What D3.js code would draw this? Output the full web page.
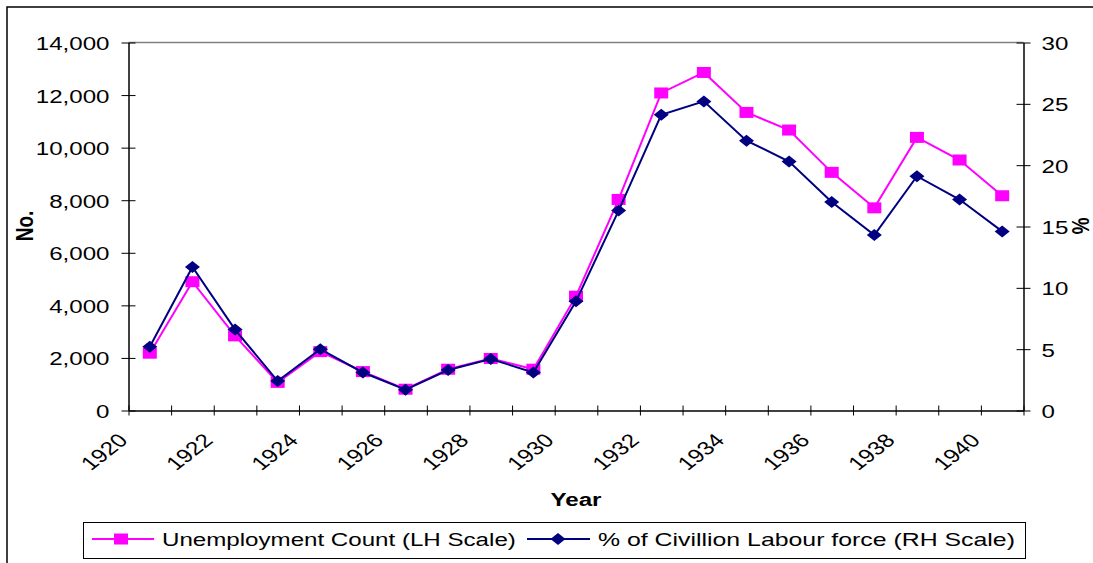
<!DOCTYPE html>
<html>
<head>
<meta charset="utf-8">
<script src="https://cdn.jsdelivr.net/npm/d3@7"></script>
<style>
  body { margin: 0; background: #fff; }
  text { font-family: "Liberation Sans", Arial, sans-serif; }
</style>
</head>
<body>
<svg id="chart" width="1093" height="563"></svg>
<script>
// Data
const years = d3.range(1920, 1941);
const unemployment = [2180, 4900, 2840, 1070, 2240, 1480, 810, 1570, 1980, 1570,
    4350, 8030, 12080, 12860, 11340, 10670, 9060, 7710, 10390, 9530, 8170];
const percentLabour = [5.2, 11.7, 6.6, 2.4, 5.0, 3.1, 1.7, 3.3, 4.2, 3.1,
    8.9, 16.3, 24.1, 25.2, 22.0, 20.3, 17.0, 14.3, 19.1, 17.2, 14.6];
const leftTicks = [0, 2000, 4000, 6000, 8000, 10000, 12000, 14000];
const rightTicks = [0, 5, 10, 15, 20, 25, 30];
const yearLabels = [1920, 1922, 1924, 1926, 1928, 1930, 1932, 1934, 1936, 1938, 1940];

const FS = 19;      // font size
const SX = 1.27;    // the source picture is stretched sideways

const svg = d3.select('#chart');
const plot = { left: 128.5, right: 1023.5, top: 42.5, bottom: 410.5 };

// outer frame
svg.append('rect')
    .attr('x', 7).attr('y', 7)
    .attr('width', 1200).attr('height', 700)
    .attr('fill', '#fff')
    .attr('stroke', '#000')
    .attr('stroke-width', 1.5);

// scales: category edges on a linear scale, points sit mid-category
const x = d3.scaleLinear().domain([1920, 1941]).range([plot.left, plot.right]);
const yL = d3.scaleLinear().domain([0, 14000]).range([plot.bottom, plot.top]);
const yR = d3.scaleLinear().domain([0, 30]).range([plot.bottom, plot.top]);

// plot area top border
svg.append('line')
    .attr('x1', plot.left).attr('x2', plot.right)
    .attr('y1', plot.top).attr('y2', plot.top)
    .attr('stroke', '#808080').attr('stroke-width', 1.5);

function styleAxis(g) {
    g.select('.domain').attr('stroke', '#000').attr('stroke-width', 1.5);
    g.selectAll('.tick line').attr('stroke', '#000').attr('stroke-width', 1);
    g.selectAll('.tick text')
        .attr('fill', '#000')
        .style('font-size', FS + 'px');
}

// Left axis
const gL = svg.append('g')
    .attr('transform', `translate(${plot.left}, 0)`)
    .call(d3.axisLeft(yL).tickValues(leftTicks).tickSizeOuter(0)
        .tickFormat(d3.format(',')));
styleAxis(gL);
gL.selectAll('.tick line').attr('x1', 7).attr('x2', -7);
gL.selectAll('.tick text')
    .attr('x', null).attr('dy', null)
    .attr('text-anchor', 'end')
    .attr('transform', `translate(-19, 7) scale(${SX}, 1)`);

// Right axis
const gR = svg.append('g')
    .attr('transform', `translate(${plot.right}, 0)`)
    .call(d3.axisRight(yR).tickValues(rightTicks).tickSizeOuter(0));
styleAxis(gR);
gR.selectAll('.tick line').attr('x1', -7).attr('x2', 7);
gR.selectAll('.tick text')
    .attr('x', null).attr('dy', null)
    .attr('text-anchor', 'start')
    .attr('transform', `translate(18, 7) scale(${SX}, 1)`);

// Bottom axis
const gX = svg.append('g')
    .attr('transform', `translate(0, ${plot.bottom})`)
    .call(d3.axisBottom(x).tickValues(d3.range(1920, 1942)).tickSizeOuter(0)
        .tickFormat(d => yearLabels.includes(d) ? d : ''));
styleAxis(gX);
gX.selectAll('.tick line').attr('y1', -5).attr('y2', 5);
gX.selectAll('.tick text')
    .attr('y', null).attr('dy', null)
    .attr('text-anchor', 'end')
    .attr('transform', `translate(0, 31) scale(${SX}, 1) rotate(-45)`);

// Axis titles
svg.append('text')
    .attr('transform', `translate(576, 506) scale(${SX}, 1)`)
    .attr('text-anchor', 'middle')
    .style('font-size', FS + 'px')
    .style('font-weight', 'bold')
    .text('Year');

svg.append('text')
    .attr('transform', `translate(33, 226) scale(${SX}, 1) rotate(-90)`)
    .attr('text-anchor', 'middle')
    .style('font-size', FS + 'px')
    .style('font-weight', 'bold')
    .text('No.');

svg.append('text')
    .attr('transform', `translate(1072, 226) scale(${SX}, 1) rotate(90)`)
    .attr('text-anchor', 'middle')
    .style('font-size', FS + 'px')
    .style('font-weight', 'bold')
    .text('%');

// Series
const pink = '#ff00ff';
const navy = '#000080';
const diamond = 'M0,-6L7.5,0L0,6L-7.5,0Z';

const lineL = d3.line()
    .x((d, i) => x(years[i] + 0.5))
    .y(d => yL(d));
const lineR = d3.line()
    .x((d, i) => x(years[i] + 0.5))
    .y(d => yR(d));

svg.append('path')
    .datum(unemployment)
    .attr('fill', 'none')
    .attr('stroke', pink)
    .attr('stroke-width', 2)
    .attr('d', lineL);

svg.selectAll('.sq')
    .data(unemployment)
    .enter()
    .append('rect')
    .attr('class', 'sq')
    .attr('x', (d, i) => x(years[i] + 0.5) - 7)
    .attr('y', d => yL(d) - 5.5)
    .attr('width', 14)
    .attr('height', 11)
    .attr('fill', pink);

svg.append('path')
    .datum(percentLabour)
    .attr('fill', 'none')
    .attr('stroke', navy)
    .attr('stroke-width', 2)
    .attr('d', lineR);

svg.selectAll('.dm')
    .data(percentLabour)
    .enter()
    .append('path')
    .attr('class', 'dm')
    .attr('d', diamond)
    .attr('transform', (d, i) => `translate(${x(years[i] + 0.5)}, ${yR(d)})`)
    .attr('fill', navy);

// Legend
const legend = svg.append('g');
legend.append('rect')
    .attr('x', 83.5).attr('y', 522.5)
    .attr('width', 942).attr('height', 36)
    .attr('fill', '#fff')
    .attr('stroke', '#000')
    .attr('stroke-width', 1);

legend.append('line')
    .attr('x1', 92).attr('x2', 154).attr('y1', 539).attr('y2', 539)
    .attr('stroke', pink).attr('stroke-width', 2);
legend.append('rect')
    .attr('x', 114).attr('y', 533.5).attr('width', 14).attr('height', 11)
    .attr('fill', pink);
legend.append('text')
    .attr('transform', `translate(162, 546) scale(${SX}, 1)`)
    .style('font-size', FS + 'px')
    .text('Unemployment Count (LH Scale)');

legend.append('line')
    .attr('x1', 527).attr('x2', 590).attr('y1', 539).attr('y2', 539)
    .attr('stroke', navy).attr('stroke-width', 2);
legend.append('path')
    .attr('d', diamond)
    .attr('transform', 'translate(558, 539)')
    .attr('fill', navy);
legend.append('text')
    .attr('transform', `translate(598, 546) scale(${SX * 1.03}, 1)`)
    .style('font-size', FS + 'px')
    .text('% of Civillion Labour force (RH Scale)');
</script>
</body>
</html>
